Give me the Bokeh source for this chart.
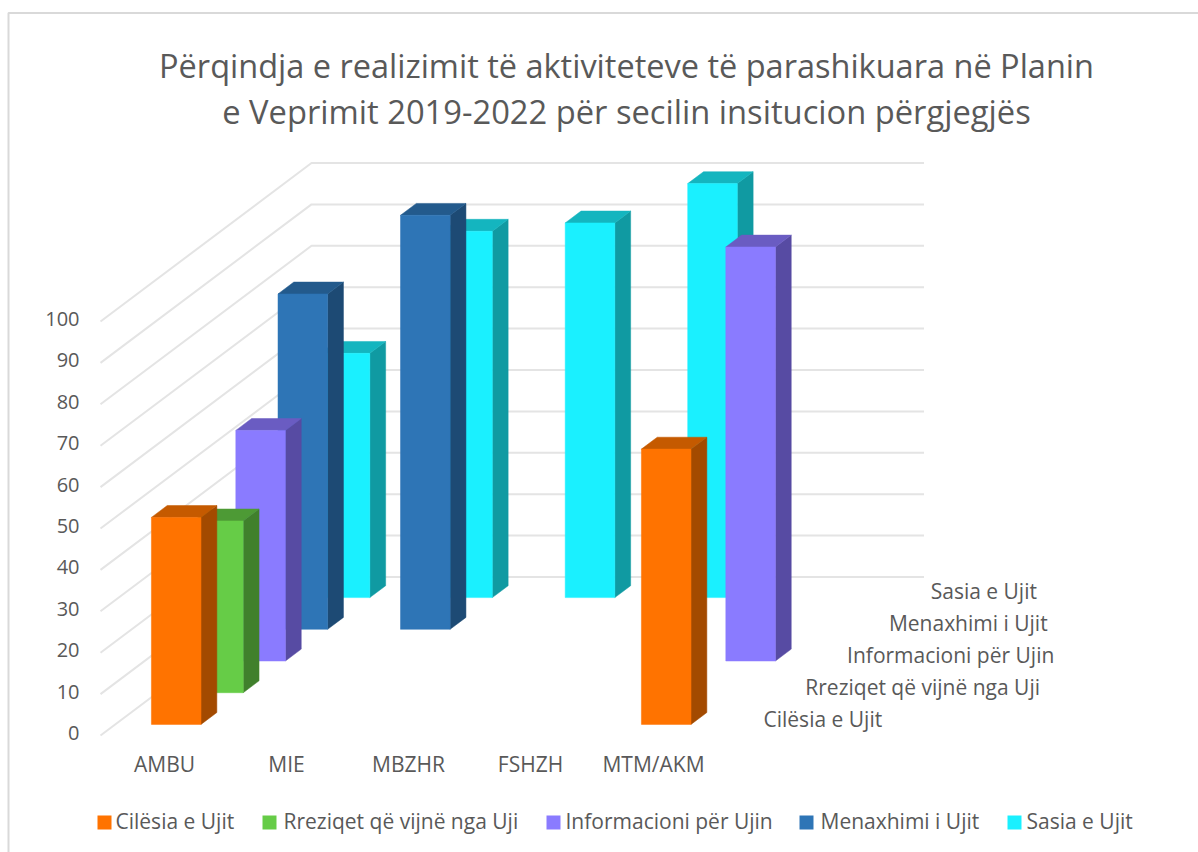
from bokeh.plotting import figure
from bokeh.models import Range1d
from bokeh.core.properties import value
from bokeh.embed import file_html
from bokeh.resources import INLINE

categories = ["AMBU", "MIE", "MBZHR", "FSHZH", "MTM/AKM"]
series_names = ["Cilësia e Ujit", "Rreziqet që vijnë nga Uji", "Informacioni për Ujin",
                "Menaxhimi i Ujit", "Sasia e Ujit"]
cilesia = [50, 0, 0, 0, 66.5]
rreziqet = [41.5, 0, 0, 0, 0]
informacioni = [55.7, 0, 0, 0, 100]
menaxhimi = [81, 100, 0, 0, 0]
sasia = [59, 88.5, 90.5, 100, 0]
values = [cilesia, rreziqet, informacioni, menaxhimi, sasia]
y_ticks = [0, 10, 20, 30, 40, 50, 60, 70, 80, 90, 100]
title_lines = ["Përqindja e realizimit të aktiviteteve të parashikuara në Planin",
               "e Veprimit 2019-2022 për secilin insitucion përgjegjës"]

front = ["#FF7300", "#66CC47", "#8A7BFF", "#2E75B6", "#1AF0FF"]
side = ["#A34A00", "#40802C", "#574BA3", "#1D4A74", "#109AA2"]
top = ["#C55A00", "#4D9A35", "#6A5CC2", "#235A8C", "#14B5BF"]
GREY = "#595959"
GRID = "#E4E4E4"
FONT = value("Open Sans")

# oblique projection of the 3D chart box (category, depth, value) to the page
OX, OY = 100.0, 735.0
CAT_W, DX, DY, VAL = 122.5, 42.2, 31.7, 4.14
def proj(c, d, v):
    return OX + c * CAT_W + d * DX, OY - d * DY - v * VAL

BAR_C0, BAR_C1 = 0.295, 0.70
BAR_D0, BAR_D1 = 0.35, 0.725

p = figure(width=1198, height=852, output_backend="svg", toolbar_location=None,
           x_range=Range1d(0, 1198), y_range=Range1d(852, 0),
           min_border=0, outline_line_color=None)
p.axis.visible = False
p.grid.visible = False

# outer chart border
p.line([1198, 8, 8], [12.5, 12.5, 852], line_color="#D9D9D9", line_width=2)

# gridlines: side wall + back wall
gx, gy = [], []
for t in y_ticks:
    x0, y0 = proj(0, 0, t)
    x1, y1 = proj(0, 5, t)
    x2, y2 = proj(5, 5, t)
    gx.append([x0, x1, x2])
    gy.append([y0, y1, y2])
p.multi_line(gx, gy, line_color=GRID, line_width=2)

# bars, back row first
for d in range(4, -1, -1):
    for c, v in enumerate(values[d]):
        if v <= 0:
            continue
        c0, c1 = c + BAR_C0, c + BAR_C1
        d0, d1 = d + BAR_D0, d + BAR_D1
        a = proj(c0, d0, 0); b = proj(c1, d0, 0)
        e = proj(c1, d0, v); f = proj(c0, d0, v)
        g = proj(c1, d1, 0); h = proj(c1, d1, v); i = proj(c0, d1, v)
        for pts, col in (([b, g, h, e], side[d]), ([f, e, h, i], top[d]), ([a, b, e, f], front[d])):
            p.patch([q[0] for q in pts], [q[1] for q in pts], fill_color=col,
                    line_color=col, line_width=0.5)

def label(x, y, s, size, align="left"):
    p.text([x], [y], text=[s], text_font=FONT, text_font_size=f"{size}px",
           text_color=GREY, text_align=align, text_baseline="middle")

# title
label(626, 65, title_lines[0], 32.5, "center")
label(626, 111, title_lines[1], 32.7, "center")

# value axis labels
for t in y_ticks:
    label(79, proj(0, 0, t)[1] - 2.5, str(t), 20, "right")

# category labels
cat_x = [164, 286, 408, 530, 653]
for x, name in zip(cat_x, categories):
    label(x, 763, name, 21, "center")

# series labels on the depth axis
for d, name in enumerate(series_names):
    label(763 + d * 41.8, 718 - d * 32, name, 21)

# legend
leg_sq = [97, 262, 546, 799, 1007]
leg_tx = [115, 283, 565, 820, 1026]
for name, col, sx, tx in zip(series_names, front, leg_sq, leg_tx):
    p.rect([sx + 7], [822], width=14, height=14, fill_color=col, line_color=None)
    label(tx, 820, name, 21)

open("out.html", "w").write(file_html(p, INLINE))
